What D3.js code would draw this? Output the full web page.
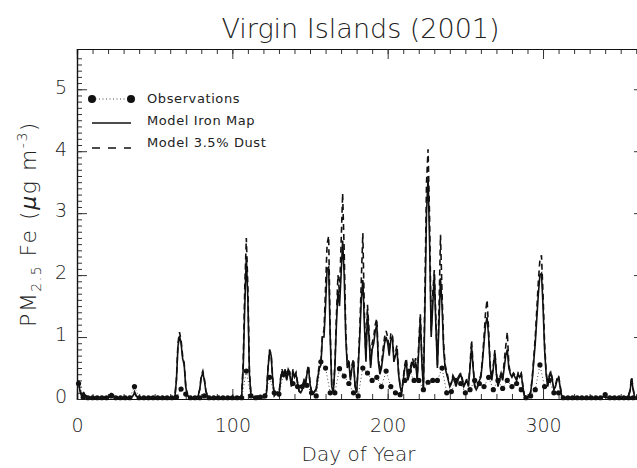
<!DOCTYPE html>
<html>
<head>
<script src="https://cdn.jsdelivr.net/npm/d3@7"></script>
  <style type="text/css">
    body {
      margin: 0;
      background: #fff;
    }
    text {
      fill: #222;
    }
  </style>
</head>
<body>
  <script type="text/javascript">

  // model daily values, day 1..365
  var days = d3.range(1, 366);

  var ironMap = [
    0.27,0.12,0.05,0.10,0.06,0.04,0.03,0.03,0.02,0.02,
    0.02,0.03,0.02,0.02,0.03,0.02,0.02,0.03,0.02,0.03,
    0.05,0.08,0.07,0.04,0.03,0.02,0.02,0.02,0.02,0.02,
    0.02,0.02,0.02,0.03,0.03,0.05,0.10,0.05,0.03,0.02,
    0.02,0.02,0.03,0.02,0.02,0.02,0.03,0.02,0.02,0.02,
    0.02,0.03,0.02,0.02,0.02,0.02,0.03,0.02,0.02,0.02,
    0.02,0.02,0.03,0.30,0.85,1.02,0.90,0.65,0.55,0.20,
    0.06,0.03,0.03,0.02,0.02,0.02,0.03,0.05,0.15,0.35,
    0.42,0.30,0.12,0.05,0.03,0.02,0.02,0.02,0.03,0.02,
    0.02,0.02,0.02,0.03,0.02,0.02,0.02,0.03,0.02,0.02,
    0.02,0.02,0.02,0.03,0.03,0.05,0.50,1.50,2.30,1.60,
    0.40,0.06,0.03,0.02,0.03,0.05,0.04,0.03,0.03,0.04,
    0.05,0.10,0.50,0.78,0.70,0.30,0.05,0.08,0.10,0.06,
    0.30,0.45,0.35,0.45,0.30,0.45,0.40,0.20,0.45,0.35,
    0.40,0.25,0.12,0.10,0.15,0.30,0.20,0.40,0.50,0.25,
    0.10,0.08,0.12,0.15,0.35,0.50,0.55,1.00,1.00,1.50,
    2.10,2.13,1.00,0.20,0.10,0.50,1.20,1.75,1.50,2.00,
    2.56,2.00,1.00,0.50,0.60,0.30,0.50,0.60,0.20,0.10,
    0.50,1.00,1.60,1.92,1.20,0.60,1.40,1.00,0.50,0.80,
    0.90,1.10,1.20,0.60,0.40,0.50,0.70,0.90,1.00,0.90,
    0.70,0.95,1.00,0.60,0.70,0.80,0.40,0.20,0.10,0.30,
    0.50,0.60,0.30,0.40,0.50,0.60,0.50,0.60,0.30,0.80,
    1.30,0.60,0.15,1.50,3.00,3.60,2.50,1.00,1.50,2.00,
    1.20,0.50,1.20,1.95,1.50,0.80,0.50,0.40,0.30,0.20,
    0.25,0.35,0.30,0.20,0.30,0.35,0.40,0.30,0.20,0.25,
    0.30,0.20,0.50,0.85,0.50,0.20,0.15,0.20,0.30,0.35,
    0.60,0.90,1.20,1.32,1.00,0.50,0.30,0.50,0.75,0.40,
    0.20,0.30,0.40,0.30,0.50,0.70,0.80,0.50,0.40,0.35,
    0.40,0.35,0.30,0.40,0.35,0.40,0.20,0.05,0.03,0.03,
    0.05,0.10,0.30,0.60,0.90,1.30,1.70,2.00,2.03,1.50,
    0.80,0.40,0.20,0.35,0.42,0.30,0.15,0.20,0.30,0.35,
    0.20,0.05,0.03,0.02,0.02,0.02,0.03,0.02,0.02,0.02,
    0.02,0.02,0.03,0.02,0.02,0.02,0.02,0.03,0.02,0.02,
    0.02,0.02,0.02,0.03,0.02,0.02,0.02,0.03,0.04,0.03,
    0.02,0.02,0.02,0.02,0.03,0.02,0.02,0.02,0.02,0.02,
    0.02,0.02,0.02,0.03,0.05,0.12,0.33,0.15,0.03,0.02,
    0.02,0.02,0.02,0.02,0.02
  ];

  var dust35 = [
    0.30,0.14,0.06,0.12,0.07,0.05,0.03,0.03,0.02,0.02,
    0.02,0.03,0.02,0.02,0.03,0.02,0.02,0.03,0.02,0.03,
    0.06,0.09,0.08,0.05,0.03,0.02,0.02,0.02,0.02,0.02,
    0.02,0.02,0.02,0.03,0.03,0.06,0.12,0.06,0.03,0.02,
    0.02,0.02,0.03,0.02,0.02,0.02,0.03,0.02,0.02,0.02,
    0.02,0.03,0.02,0.02,0.02,0.02,0.03,0.02,0.02,0.02,
    0.02,0.02,0.03,0.32,0.90,1.08,0.95,0.70,0.58,0.22,
    0.07,0.03,0.03,0.02,0.02,0.02,0.03,0.05,0.16,0.38,
    0.45,0.32,0.13,0.05,0.03,0.02,0.02,0.02,0.03,0.02,
    0.02,0.02,0.02,0.03,0.02,0.02,0.02,0.03,0.02,0.02,
    0.02,0.02,0.02,0.03,0.03,0.06,0.60,1.80,2.60,1.80,
    0.45,0.07,0.03,0.02,0.03,0.05,0.04,0.03,0.03,0.04,
    0.05,0.11,0.52,0.80,0.72,0.32,0.06,0.09,0.11,0.07,
    0.33,0.48,0.38,0.48,0.33,0.48,0.43,0.22,0.48,0.38,
    0.43,0.27,0.13,0.11,0.16,0.33,0.22,0.43,0.55,0.27,
    0.11,0.09,0.13,0.16,0.38,0.55,0.60,1.05,1.10,1.80,
    2.50,2.63,1.10,0.22,0.11,0.55,1.35,2.00,1.70,2.50,
    3.32,2.40,1.10,0.55,0.65,0.33,0.55,0.65,0.22,0.11,
    0.55,1.10,1.90,2.68,1.40,0.65,1.52,1.10,0.55,0.90,
    1.00,1.20,1.30,0.65,0.45,0.55,0.80,1.00,1.10,1.00,
    0.80,1.05,1.06,0.65,0.75,0.87,0.45,0.22,0.11,0.33,
    0.55,0.66,0.33,0.45,0.55,0.66,0.55,0.66,0.33,0.90,
    1.38,0.65,0.17,1.80,3.50,4.03,2.90,1.10,1.70,2.08,
    1.30,0.55,1.40,2.65,1.70,0.90,0.55,0.45,0.33,0.22,
    0.27,0.38,0.33,0.22,0.33,0.38,0.42,0.33,0.22,0.27,
    0.33,0.22,0.55,0.95,0.55,0.22,0.16,0.22,0.33,0.38,
    0.65,1.00,1.40,1.60,1.10,0.55,0.33,0.55,0.79,0.42,
    0.22,0.33,0.42,0.33,0.60,0.85,1.08,0.55,0.42,0.38,
    0.42,0.38,0.33,0.42,0.38,0.42,0.22,0.06,0.03,0.03,
    0.06,0.11,0.33,0.65,1.00,1.45,1.90,2.25,2.32,1.70,
    0.90,0.45,0.22,0.38,0.45,0.33,0.16,0.22,0.33,0.38,
    0.22,0.06,0.03,0.02,0.02,0.02,0.03,0.02,0.02,0.02,
    0.02,0.02,0.03,0.02,0.02,0.02,0.02,0.03,0.02,0.02,
    0.02,0.02,0.02,0.03,0.02,0.02,0.02,0.03,0.04,0.03,
    0.02,0.02,0.02,0.02,0.03,0.02,0.02,0.02,0.02,0.02,
    0.02,0.02,0.02,0.03,0.06,0.14,0.36,0.17,0.03,0.02,
    0.02,0.02,0.02,0.02,0.02
  ];

  // observations, every third day
  var obsDays = d3.range(1, 366, 3);

  var obsValues = [
    0.25,0.03,0.02,0.02,0.02,0.02,0.02,0.05,0.02,0.02,
    0.02,0.02,0.20,0.02,0.02,0.02,0.02,0.02,0.02,0.02,
    0.02,0.03,0.16,0.08,0.02,0.02,0.02,0.05,0.02,0.02,
    0.02,0.02,0.02,0.02,0.02,0.02,0.45,0.05,0.02,0.03,
    0.05,0.35,0.10,0.08,0.40,0.42,0.25,0.20,0.20,0.22,
    0.10,0.05,0.60,0.50,0.10,0.10,0.49,0.37,0.25,0.10,
    0.05,0.50,0.42,0.30,0.35,0.20,0.45,0.20,0.10,0.07,
    0.30,0.45,0.30,0.30,0.15,0.27,0.30,0.30,0.50,0.10,
    0.12,0.30,0.25,0.10,0.15,0.30,0.25,0.20,0.35,0.15,
    0.30,0.17,0.30,0.20,0.25,0.15,0.02,0.05,0.15,0.55,
    0.20,0.30,0.10,0.10,0.02,0.02,0.02,0.02,0.02,0.02,
    0.02,0.02,0.02,0.07,0.02,0.02,0.02,0.02,0.02,0.02,
    0.02,0.02
  ];

  var xTicks = [0, 100, 200, 300];
  var yTicks = [0, 1, 2, 3, 4, 5];

  var legendLabels = ["Observations", "Model Iron Map", "Model 3.5% Dust"];

  var width = 637, height = 468;
  var margin = {left: 77, right: 644, top: 49, bottom: 399};
  var fontFamily = "'DejaVu Sans', sans-serif";

  var svg = d3.select("body").append("svg")
      .attr("width", width)
      .attr("height", height)
      .style("font-family", fontFamily);

  var x = d3.scaleLinear().domain([0, 365]).range([margin.left, margin.right]);
  var y = d3.scaleLinear().domain([0, 5.65]).range([margin.bottom, margin.top]);

  var ink = "#111";
  var minorY = d3.range(0, 56).map(function(i) { return i / 10; });
  var minorX = d3.range(0, 366, 10);

  // title
  svg.append("text")
    .attr("x", (margin.left + margin.right) / 2)
    .attr("y", 38)
    .attr("text-anchor", "middle")
    .attr("font-size", 27)
    .attr("font-weight", 200)
    .text("Virgin Islands (2001)");

  // frame + ticks (IDL style, inward, all four sides)
  var axisG = svg.append("g");

  function labelStyle(g) {
    g.attr("font-family", fontFamily);
    g.selectAll("text").attr("font-size", 19).attr("font-weight", 200).attr("fill", "#222");
  }

  axisG.append("g")
    .attr("transform", "translate(0," + margin.bottom + ")")
    .call(d3.axisBottom(x).tickValues(minorX).tickSize(-5).tickFormat(""));
  axisG.append("g")
    .attr("transform", "translate(0," + margin.bottom + ")")
    .call(d3.axisBottom(x).tickValues(xTicks).tickSize(-10).tickPadding(20).tickFormat(d3.format("d")))
    .call(labelStyle);

  axisG.append("g")
    .attr("transform", "translate(0," + margin.top + ")")
    .call(d3.axisTop(x).tickValues(minorX).tickSize(-5).tickFormat(""));
  axisG.append("g")
    .attr("transform", "translate(0," + margin.top + ")")
    .call(d3.axisTop(x).tickValues(xTicks).tickSize(-10).tickFormat(""));

  axisG.append("g")
    .attr("transform", "translate(" + margin.left + ",0)")
    .call(d3.axisLeft(y).tickValues(minorY).tickSize(-5).tickFormat(""));
  axisG.append("g")
    .attr("transform", "translate(" + margin.left + ",0)")
    .call(d3.axisLeft(y).tickValues(yTicks).tickSize(-10).tickPadding(10).tickFormat(d3.format("d")))
    .call(labelStyle)
    .call(function(g) { g.selectAll("text").attr("dy", "0.2em"); });

  axisG.append("g")
    .attr("transform", "translate(" + margin.right + ",0)")
    .call(d3.axisRight(y).tickValues(minorY).tickSize(-5).tickFormat(""));
  axisG.append("g")
    .attr("transform", "translate(" + margin.right + ",0)")
    .call(d3.axisRight(y).tickValues(yTicks).tickSize(-10).tickFormat(""));

  axisG.selectAll(".domain").attr("stroke", ink).attr("stroke-width", 1.2);
  axisG.selectAll(".tick line").attr("stroke", "#333").attr("stroke-width", 1);

  // axis titles
  svg.append("text")
    .attr("x", (margin.left + margin.right) / 2 - 2)
    .attr("y", 461)
    .attr("text-anchor", "middle")
    .attr("font-size", 20)
    .attr("font-weight", 200)
    .text("Day of Year");

  var yl = svg.append("text")
    .attr("transform", "translate(36," + ((margin.top + margin.bottom) / 2) + ") rotate(-90)")
    .attr("text-anchor", "middle")
    .attr("font-size", 22)
    .attr("font-weight", 200)
    .attr("letter-spacing", 1.5);
  yl.append("tspan").text("PM");
  yl.append("tspan").attr("font-size", 14).attr("dy", 5).text("2.5");
  yl.append("tspan").attr("dy", -5).text(" Fe (");
  yl.append("tspan").attr("font-style", "italic").text("\u03bc");
  yl.append("tspan").text("g m");
  yl.append("tspan").attr("font-size", 14).attr("dy", -9).text("-3");
  yl.append("tspan").attr("dy", 9).text(")");

  // series
  var plot = svg.append("g");

  var modelLine = d3.line()
      .x(function(d, i) { return x(days[i]); })
      .y(function(d) { return y(d); });

  var obsLine = d3.line()
      .x(function(d, i) { return x(obsDays[i]); })
      .y(function(d) { return y(d); });

  plot.append("path")
    .datum(obsValues)
    .attr("d", obsLine)
    .attr("fill", "none")
    .attr("stroke", "#444")
    .attr("stroke-width", 1)
    .attr("stroke-dasharray", "1,2.5");

  plot.append("path")
    .datum(ironMap)
    .attr("d", modelLine)
    .attr("fill", "none")
    .attr("stroke", ink)
    .attr("stroke-width", 1.6);

  plot.append("path")
    .datum(dust35)
    .attr("d", modelLine)
    .attr("fill", "none")
    .attr("stroke", ink)
    .attr("stroke-width", 1.6)
    .attr("stroke-dasharray", "6,4");

  plot.selectAll(".obs")
    .data(obsValues)
    .enter()
    .append("circle").attr("class", "obs")
    .attr("cx", function(d, i) { return x(obsDays[i]); })
    .attr("cy", function(d) { return y(d); })
    .attr("r", 2.6)
    .attr("fill", ink);

  // legend
  var legend = svg.append("g").attr("font-size", 13).attr("letter-spacing", 0.6);
  var ly = d3.scalePoint().domain(legendLabels).range([98, 142]);

  legend.append("line")
    .attr("x1", 92).attr("x2", 131)
    .attr("y1", ly(legendLabels[0]) + 1).attr("y2", ly(legendLabels[0]) + 1)
    .attr("stroke", "#444").attr("stroke-width", 1).attr("stroke-dasharray", "1,2.5");
  legend.selectAll(".ldot")
    .data([92, 131])
    .enter()
    .append("circle")
    .attr("cx", function(d) { return d; })
    .attr("cy", ly(legendLabels[0]) + 1)
    .attr("r", 4)
    .attr("fill", ink);

  legend.append("line")
    .attr("x1", 92).attr("x2", 131)
    .attr("y1", ly(legendLabels[1]) + 3).attr("y2", ly(legendLabels[1]) + 3)
    .attr("stroke", ink).attr("stroke-width", 1.6);

  legend.append("line")
    .attr("x1", 92).attr("x2", 131)
    .attr("y1", ly(legendLabels[2]) + 6).attr("y2", ly(legendLabels[2]) + 6)
    .attr("stroke", ink).attr("stroke-width", 1.6).attr("stroke-dasharray", "8,8");

  legend.selectAll(".ltext")
    .data(legendLabels)
    .enter()
    .append("text")
    .attr("x", 147)
    .attr("y", function(d) { return ly(d); })
    .attr("dy", "0.35em")
    .text(function(d) { return d; });

  </script>
</body>
</html>
